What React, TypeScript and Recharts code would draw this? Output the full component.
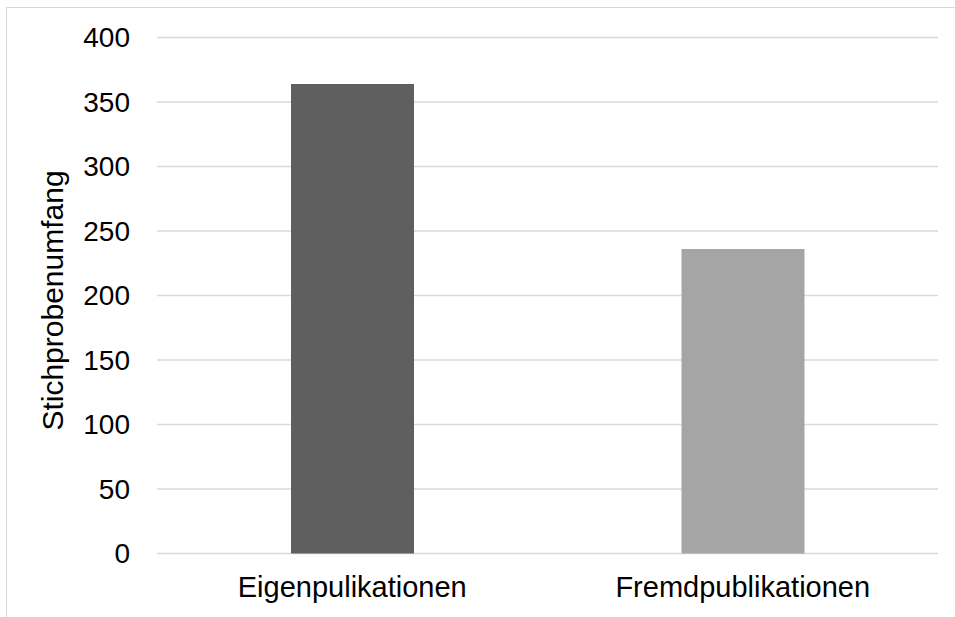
import { BarChart, Bar, XAxis, YAxis, CartesianGrid, Cell, Label } from "recharts";

const categories = ["Eigenpulikationen", "Fremdpublikationen"];
const sampleSizes = [364, 236];
const barColors = ["#5f5f5f", "#a5a5a5"];
const yTicks = [0, 50, 100, 150, 200, 250, 300, 350, 400];

const data = categories.map((name, i) => ({ name, value: sampleSizes[i] }));

const FONT = '"Liberation Sans", Arial, sans-serif';

function AxisTitle({ viewBox }: any) {
  const cx = 52;
  const cy = viewBox.y + viewBox.height / 2 + 5;
  return (
    <text
      x={cx}
      y={cy}
      transform={`rotate(-90, ${cx}, ${cy})`}
      textAnchor="middle"
      dominantBaseline="central"
      fontSize={30}
      fontFamily={FONT}
      fill="#000"
    >
      Stichprobenumfang
    </text>
  );
}

export default function App() {
  return (
    <div
      style={{
        position: "absolute",
        left: 0,
        top: 0,
        width: 955,
        height: 617,
        overflow: "hidden",
        background: "#fff",
      }}
    >
      {/* outer chart frame, runs off the right and bottom edges */}
      <div
        style={{
          position: "absolute",
          left: 6,
          top: 7,
          width: 1000,
          height: 700,
          border: "1.5px solid #d9d9d9",
        }}
      />
      <div style={{ position: "absolute", left: 0, top: 0 }}>
        <BarChart
          width={955}
          height={617}
          data={data}
          margin={{ top: 37.5, right: 17, bottom: 0, left: 0 }}
        >
          <CartesianGrid vertical={false} stroke="#d9d9d9" strokeWidth={1.5} />
          <XAxis
            dataKey="name"
            height={63.5}
            axisLine={false}
            tickLine={false}
            tickSize={0}
            tickMargin={23}
            tick={{ fontSize: 29, fontFamily: FONT, fill: "#000" }}
          />
          <YAxis
            width={157}
            domain={[0, 400]}
            ticks={yTicks}
            axisLine={false}
            tickLine={false}
            tickSize={0}
            tickMargin={27}
            tick={{ fontSize: 28, fontFamily: FONT, fill: "#000" }}
          >
            <Label content={<AxisTitle />} />
          </YAxis>
          <Bar dataKey="value" barSize={123} isAnimationActive={false}>
            {data.map((d, i) => (
              <Cell key={d.name} fill={barColors[i]} />
            ))}
          </Bar>
        </BarChart>
      </div>
    </div>
  );
}
